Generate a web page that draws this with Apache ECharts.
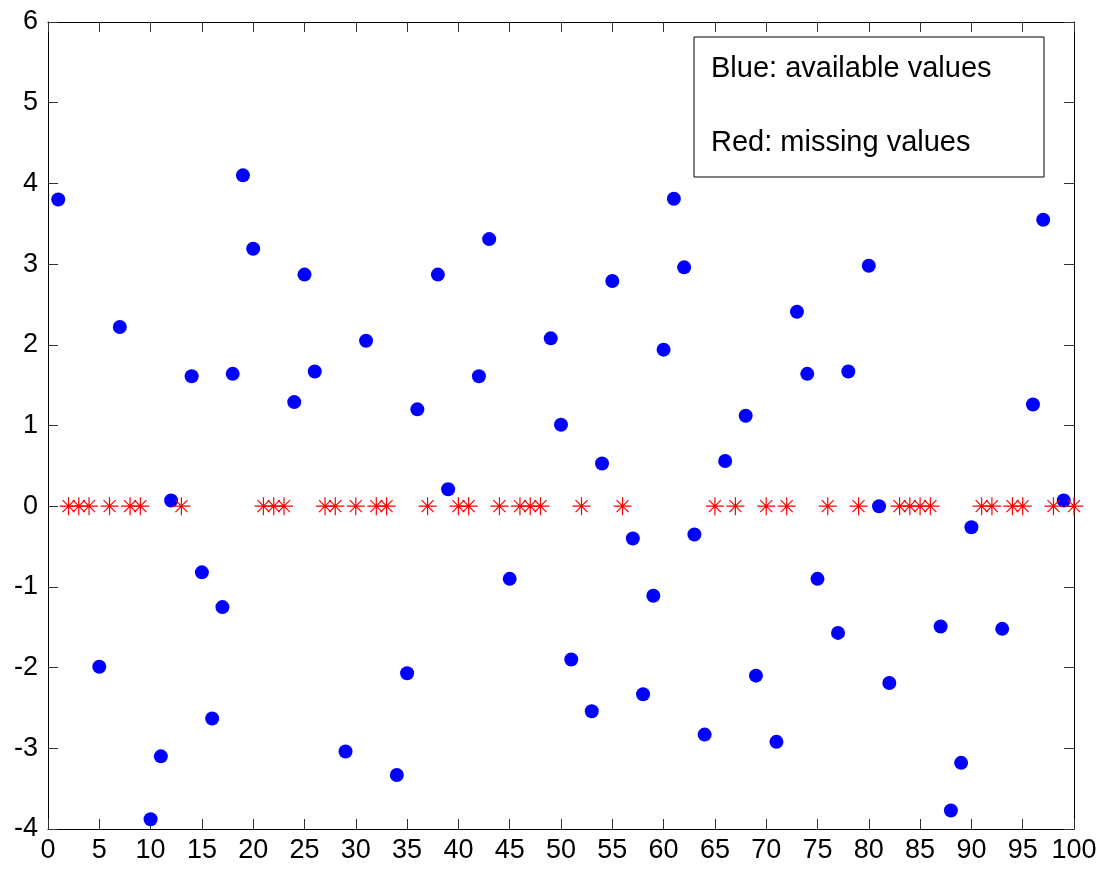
<!DOCTYPE html>
<html>
<head>
<meta charset="utf-8">
<script src="https://cdn.jsdelivr.net/npm/echarts@6/dist/echarts.min.js"></script>
<style>
html,body{margin:0;padding:0;background:#fff;}
#chart{width:1103px;height:870px;}
</style>
</head>
<body>
<div id="chart"></div>
<script>
// Available values (blue)
const availableX = [1,5,7,10,11,12,14,15,16,17,18,19,20,24,25,26,29,31,34,35,36,38,39,42,43,45,49,50,51,53,54,55,57,58,59,60,61,62,63,64,66,68,69,71,73,74,75,77,78,80,81,82,87,88,89,90,93,96,97,99];
const availableY = [3.80,-1.99,2.22,-3.88,-3.10,0.07,1.61,-0.82,-2.63,-1.25,1.64,4.10,3.19,1.29,2.87,1.67,-3.04,2.05,-3.33,-2.07,1.20,2.87,0.21,1.61,3.31,-0.90,2.08,1.01,-1.90,-2.54,0.53,2.79,-0.40,-2.33,-1.11,1.94,3.81,2.96,-0.35,-2.83,0.56,1.12,-2.10,-2.92,2.41,1.64,-0.90,-1.57,1.67,2.98,0.00,-2.19,-1.49,-3.77,-3.18,-0.26,-1.52,1.26,3.55,0.07];
// Missing values (red), plotted at 0
const missingX = [2,3,4,6,8,9,13,21,22,23,27,28,30,32,33,37,40,41,44,46,47,48,52,56,65,67,70,72,76,79,83,84,85,86,91,92,94,95,98,100];
const missingY = [0,0,0,0,0,0,0,0,0,0,0,0,0,0,0,0,0,0,0,0,0,0,0,0,0,0,0,0,0,0,0,0,0,0,0,0,0,0,0,0];
const legendLines = ['Blue: available values', 'Red: missing values'];

const FONT = "'Liberation Sans', Arial, sans-serif";
const chart = echarts.init(document.getElementById('chart'));
const axisLine = {show: true, onZero: false, lineStyle: {color: '#000', width: 1}};
const axisTick = {show: true, inside: true, length: 10, lineStyle: {color: '#333', width: 1}};
const label = {color: '#000', fontSize: 27, fontFamily: FONT};

chart.setOption({
  animation: false,
  backgroundColor: '#fff',
  grid: {left: 48, right: 29, top: 22, bottom: 41, containLabel: false},
  xAxis: [
    {type: 'value', min: 0, max: 100, interval: 5, position: 'bottom',
     axisLine, axisTick, splitLine: {show: false},
     axisLabel: Object.assign({margin: 8}, label)},
    {type: 'value', min: 0, max: 100, interval: 5, position: 'top',
     axisLine, axisTick, splitLine: {show: false}, axisLabel: {show: false}}
  ],
  yAxis: [
    {type: 'value', min: -4, max: 6, interval: 1, position: 'left',
     axisLine, axisTick, splitLine: {show: false},
     axisLabel: Object.assign({margin: 10}, label)},
    {type: 'value', min: -4, max: 6, interval: 1, position: 'right',
     axisLine, axisTick, splitLine: {show: false}, axisLabel: {show: false}}
  ],
  series: [
    {type: 'scatter', clip: false, symbol: 'circle', symbolSize: 14,
     itemStyle: {color: '#0000ff', opacity: 1},
     data: availableX.map((x, i) => [x, availableY[i]])},
    {type: 'scatter', clip: false, symbolSize: 18,
     symbol: 'path://M0,9 L18,9 M9,0 L9,18 M3,3 L15,15 M15,3 L3,15',
     itemStyle: {color: 'rgba(0,0,0,0)', borderColor: '#ff0000', borderWidth: 1.2, opacity: 1},
     data: missingX.map((x, i) => [x, missingY[i]])}
  ],
  graphic: [
    {type: 'rect', x: 694, y: 37, z: 100,
     shape: {x: 0, y: 0, width: 350, height: 140},
     style: {fill: '#fff', stroke: '#000', lineWidth: 1}},
    {type: 'text', x: 711, y: 69, z: 101,
     style: {text: legendLines[0], fill: '#000', font: '29px ' + FONT, verticalAlign: 'middle', align: 'left'}},
    {type: 'text', x: 711, y: 143, z: 101,
     style: {text: legendLines[1], fill: '#000', font: '29px ' + FONT, verticalAlign: 'middle', align: 'left'}}
  ]
});
</script>
</body>
</html>
